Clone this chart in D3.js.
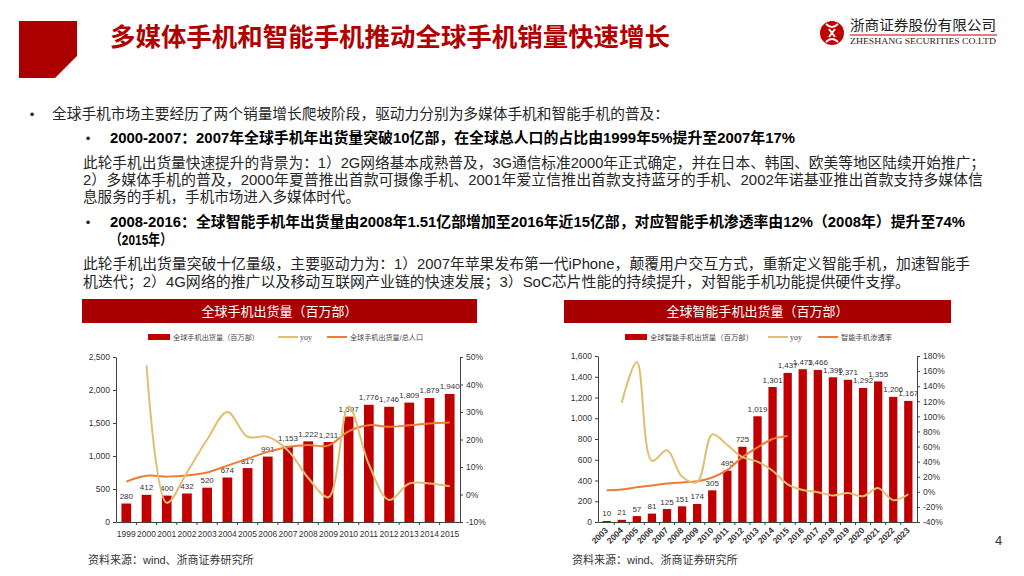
<!DOCTYPE html>
<html>
<head>
<meta charset="utf-8">
<script src="https://cdn.jsdelivr.net/npm/d3@7"></script>
<style>
  body { margin: 0; background: #fff; }
  svg { display: block; font-family: "Liberation Sans", "Noto Sans CJK SC", sans-serif; }
</style>
</head>
<body>
<script>
// ---- chart data ----
const years1 = ['1999','2000','2001','2002','2003','2004','2005','2006','2007','2008','2009','2010','2011','2012','2013','2014','2015'];
const shipments1 = [280,412,400,432,520,674,817,991,1153,1222,1211,1597,1776,1746,1809,1879,1940];
const yoy1 = [null,47,-3,8,20,30,21,21,16,6,-1,32,11,-2,4,4,3];
const perCapita1 = [4.7,6.8,6.5,6.9,8.0,10.5,13.0,15.5,17.3,18.0,17.8,23.0,25.2,24.6,25.2,25.8,26.2];

const years2 = ['2003','2004','2005','2006','2007','2008','2009','2010','2011','2012','2013','2014','2015','2016','2017','2018','2019','2020','2021','2022','2023'];
const shipments2 = [10,21,57,81,125,151,174,305,495,725,1019,1301,1437,1473,1466,1395,1371,1292,1355,1206,1167];
const yoy2 = [null,118,172,41,55,20,13,76,62,46,40,28,10,2.5,-0.5,-4.8,-1.7,-5.8,4.9,-11,-3.2];
const penetration2 = [2,3,6,8.5,11,12.5,14,19,29,46,59,70,74,null,null,null,null,null,null,null,null];

const leftTicks1 = [0,500,1000,1500,2000,2500];
const rightTicks1 = [-10,0,10,20,30,40,50];
const leftTicks2 = [0,200,400,600,800,1000,1200,1400,1600];
const rightTicks2 = [-40,-20,0,20,40,60,80,100,120,140,160,180];

// ---- page text ----
const pageTitle = '多媒体手机和智能手机推动全球手机销量快速增长';
const bodyLines = [
  '全球手机市场主要经历了两个销量增长爬坡阶段，驱动力分别为多媒体手机和智能手机的普及：',
  '2000-2007：2007年全球手机年出货量突破10亿部，在全球总人口的占比由1999年5%提升至2007年17%',
  '此轮手机出货量快速提升的背景为：1）2G网络基本成熟普及，3G通信标准2000年正式确定，并在日本、韩国、欧美等地区陆续开始推广；',
  '2）多媒体手机的普及，2000年夏普推出首款可摄像手机、2001年爱立信推出首款支持蓝牙的手机、2002年诺基亚推出首款支持多媒体信',
  '息服务的手机，手机市场进入多媒体时代。',
  '2008-2016：全球智能手机年出货量由2008年1.51亿部增加至2016年近15亿部，对应智能手机渗透率由12%（2008年）提升至74%',
  '（2015年）',
  '此轮手机出货量突破十亿量级，主要驱动力为：1）2007年苹果发布第一代iPhone，颠覆用户交互方式，重新定义智能手机，加速智能手',
  '机迭代；2）4G网络的推广以及移动互联网产业链的快速发展；3）SoC芯片性能的持续提升，对智能手机功能提供硬件支撑。'
];
// x start, y centre, x end, bold
const bodyLayout = [
  [52,114,669,false],[110,138,795,true],[83,163,985,false],[83,180,983,false],[83,197,360,false],
  [110,222,965,true],[110,240,172,true],[83,264,970,false],[83,282,910,false]
];

const RED = '#c00000';
const YOY = '#dfc072';
const ORANGE = '#ee7b36';

const svg = d3.select('body').append('svg')
    .attr('width', 1024)
    .attr('height', 576);

// header block + title
svg.append('polygon')
    .attr('points', '19,21 77,21 77,56 55,78 19,78')
    .attr('fill', '#ac0000');

svg.append('text')
    .attr('x', 110).attr('y', 37)
    .attr('dominant-baseline', 'central')
    .attr('font-size', 25).attr('font-weight', 'bold')
    .attr('fill', '#b00000')
    .attr('textLength', 560).attr('lengthAdjust', 'spacingAndGlyphs')
    .text(pageTitle);

// logo
const logo = svg.append('g');
logo.append('circle').attr('cx', 832).attr('cy', 33).attr('r', 12).attr('fill', RED);
logo.append('path')
    .attr('d', 'M826,24 Q832,30 838,24 M826,42 Q832,36 838,42 M829,29 L835,37 M835,29 L829,37')
    .attr('fill', 'none').attr('stroke', '#fff').attr('stroke-width', 2);
logo.append('text')
    .attr('x', 850).attr('y', 25).attr('dominant-baseline', 'central')
    .attr('font-size', 14).attr('fill', '#222')
    .attr('textLength', 146).attr('lengthAdjust', 'spacingAndGlyphs')
    .text('浙商证券股份有限公司');
logo.append('line')
    .attr('x1', 850).attr('x2', 997).attr('y1', 35).attr('y2', 35)
    .attr('stroke', RED).attr('stroke-width', 1);
logo.append('text')
    .attr('x', 850).attr('y', 41).attr('dominant-baseline', 'central')
    .attr('font-family', '"Liberation Serif", serif')
    .attr('font-size', 9).attr('fill', '#222')
    .attr('textLength', 146).attr('lengthAdjust', 'spacingAndGlyphs')
    .text('ZHESHANG SECURITIES CO.LTD');

// body text with bullets
svg.selectAll('.bullet')
    .data([[32,114],[88,138],[88,222]])
    .enter().append('text')
    .attr('class', 'bullet')
    .attr('x', d => d[0]).attr('y', d => d[1])
    .attr('dominant-baseline', 'central')
    .attr('text-anchor', 'middle')
    .attr('font-size', 13).attr('fill', '#222')
    .text('•');

svg.selectAll('.body-line')
    .data(bodyLines)
    .enter().append('text')
    .attr('class', 'body-line')
    .attr('x', (d, i) => bodyLayout[i][0])
    .attr('y', (d, i) => bodyLayout[i][1])
    .attr('dominant-baseline', 'central')
    .attr('font-size', 14.6)
    .attr('font-weight', (d, i) => bodyLayout[i][3] ? 'bold' : 'normal')
    .attr('fill', (d, i) => bodyLayout[i][3] ? '#000' : '#262626')
    .attr('textLength', (d, i) => bodyLayout[i][2] - bodyLayout[i][0])
    .attr('lengthAdjust', 'spacingAndGlyphs')
    .text(d => d);

// page number
svg.append('text')
    .attr('x', 995).attr('y', 540).attr('dominant-baseline', 'central')
    .attr('font-size', 13).attr('fill', '#333')
    .text('4');

// one combo chart: bars on the left axis, two lines on the right axis
function drawChart(o) {
    const g = svg.append('g');

    // red title band
    g.append('rect')
        .attr('x', o.band[0]).attr('y', o.band[1])
        .attr('width', o.band[2]).attr('height', o.band[3])
        .attr('fill', '#a80000');
    g.append('text')
        .attr('x', o.band[0] + o.band[2] / 2).attr('y', o.band[1] + o.band[3] / 2)
        .attr('dominant-baseline', 'central').attr('text-anchor', 'middle')
        .attr('font-size', 13).attr('fill', '#fff')
        .text(o.title);

    const x = d3.scaleBand()
        .domain(o.cats)
        .range(o.xRange)
        .paddingInner(o.padIn)
        .paddingOuter(o.padOut);

    const yL = d3.scaleLinear().domain([0, d3.max(o.leftTicks)]).range(o.yRange);
    const yR = d3.scaleLinear().domain(d3.extent(o.rightTicks)).range(o.yRange);

    // bars
    g.selectAll('.bar')
        .data(o.bars)
        .enter().append('rect')
        .attr('x', (d, i) => x(o.cats[i]))
        .attr('y', d => yL(d))
        .attr('width', x.bandwidth())
        .attr('height', d => yL(0) - yL(d))
        .attr('fill', RED);

    g.selectAll('.bar-label')
        .data(o.bars)
        .enter().append('text')
        .attr('x', (d, i) => x(o.cats[i]) + x.bandwidth() / 2)
        .attr('y', d => yL(d) - 7)
        .attr('dominant-baseline', 'central').attr('text-anchor', 'middle')
        .attr('font-size', 8).attr('fill', '#333')
        .text(d => d3.format(',')(d));

    // lines
    const line = d3.line()
        .defined(d => d != null)
        .x((d, i) => x(o.cats[i]) + x.bandwidth() / 2)
        .y(d => yR(d))
        .curve(d3.curveCatmullRom);

    g.append('path').datum(o.line2)
        .attr('d', line)
        .attr('fill', 'none').attr('stroke', ORANGE).attr('stroke-width', 2);

    g.append('path').datum(o.yoy)
        .attr('d', line)
        .attr('fill', 'none').attr('stroke', YOY).attr('stroke-width', 2);

    // axes
    const axL = g.append('g')
        .attr('transform', `translate(${o.xRange[0]},0)`)
        .call(d3.axisLeft(yL).tickValues(o.leftTicks).tickSize(3).tickSizeOuter(0).tickFormat(d3.format(',')));
    const axR = g.append('g')
        .attr('transform', `translate(${o.xRange[1]},0)`)
        .call(d3.axisRight(yR).tickValues(o.rightTicks).tickSize(3).tickSizeOuter(0).tickFormat(d => d + '%'));
    const axB = g.append('g')
        .attr('transform', `translate(0,${o.yRange[0]})`)
        .call(d3.axisBottom(x).tickSize(0).tickSizeOuter(0).tickPadding(o.rotate ? 4 : 9));

    [axL, axR, axB].forEach(a => {
        a.select('.domain').attr('stroke', '#404040');
        a.selectAll('.tick line').attr('stroke', '#404040');
        a.selectAll('text')
            .attr('font-family', '"Liberation Sans", sans-serif')
            .attr('font-size', 8.5).attr('fill', '#333');
    });

    if (o.rotate) {
        axB.selectAll('text')
            .attr('text-anchor', 'end')
            .attr('dy', '0.35em')
            .attr('transform', 'translate(-3,4) rotate(-45)')
            .attr('font-weight', 'bold');
    }

    // small ticks between categories on the x axis
    const step = x.step();
    g.selectAll('.xtick')
        .data(o.cats.slice(1))
        .enter().append('line')
        .attr('x1', d => x(d) - (step - x.bandwidth()) / 2)
        .attr('x2', d => x(d) - (step - x.bandwidth()) / 2)
        .attr('y1', o.yRange[0]).attr('y2', o.yRange[0] + 3)
        .attr('stroke', '#404040');

    // legend
    const ly = o.legendY;
    const lg = o.legend;
    g.append('rect')
        .attr('x', lg[0]).attr('y', ly - 3).attr('width', 22).attr('height', 6)
        .attr('fill', RED);
    g.append('text')
        .attr('x', lg[0] + 25).attr('y', ly).attr('dominant-baseline', 'central')
        .attr('font-size', 7).attr('fill', '#444')
        .attr('textLength', lg[1]).attr('lengthAdjust', 'spacingAndGlyphs')
        .text(o.legendText[0]);
    g.append('line')
        .attr('x1', lg[2]).attr('x2', lg[2] + 20).attr('y1', ly).attr('y2', ly)
        .attr('stroke', YOY).attr('stroke-width', 2);
    g.append('text')
        .attr('x', lg[2] + 22).attr('y', ly).attr('dominant-baseline', 'central')
        .attr('font-family', '"Liberation Serif", serif')
        .attr('font-size', 8).attr('fill', '#444')
        .text(o.legendText[1]);
    g.append('line')
        .attr('x1', lg[3]).attr('x2', lg[3] + 20).attr('y1', ly).attr('y2', ly)
        .attr('stroke', ORANGE).attr('stroke-width', 2);
    g.append('text')
        .attr('x', lg[3] + 23).attr('y', ly).attr('dominant-baseline', 'central')
        .attr('font-size', 7).attr('fill', '#444')
        .attr('textLength', lg[4]).attr('lengthAdjust', 'spacingAndGlyphs')
        .text(o.legendText[2]);

    // source note
    g.append('text')
        .attr('x', o.sourceX).attr('y', 560).attr('dominant-baseline', 'central')
        .attr('font-size', 11).attr('fill', '#333')
        .text('资料来源：wind、浙商证券研究所');
}

drawChart({
    title: '全球手机出货量（百万部）',
    band: [82, 299, 395, 24],
    cats: years1, bars: shipments1, yoy: yoy1, line2: perCapita1,
    leftTicks: leftTicks1, rightTicks: rightTicks1,
    xRange: [116, 460], yRange: [522, 357],
    padIn: 0.52, padOut: 0.27, rotate: false,
    legendY: 337, legend: [148, 86, 278, 327, 73],
    legendText: ['全球手机出货量（百万部）', 'yoy', '全球手机出货量/总人口'],
    sourceX: 88
});

drawChart({
    title: '全球智能手机出货量（百万部）',
    band: [564, 300, 387, 23],
    cats: years2, bars: shipments2, yoy: yoy2, line2: penetration2,
    leftTicks: leftTicks2, rightTicks: rightTicks2,
    xRange: [598, 917], yRange: [522, 356],
    padIn: 0.45, padOut: 0.3, rotate: true,
    legendY: 337, legend: [625, 103, 768, 818, 51],
    legendText: ['全球智能手机出货量（百万部）', 'yoy', '智能手机渗透率'],
    sourceX: 572
});
</script>
</body>
</html>
